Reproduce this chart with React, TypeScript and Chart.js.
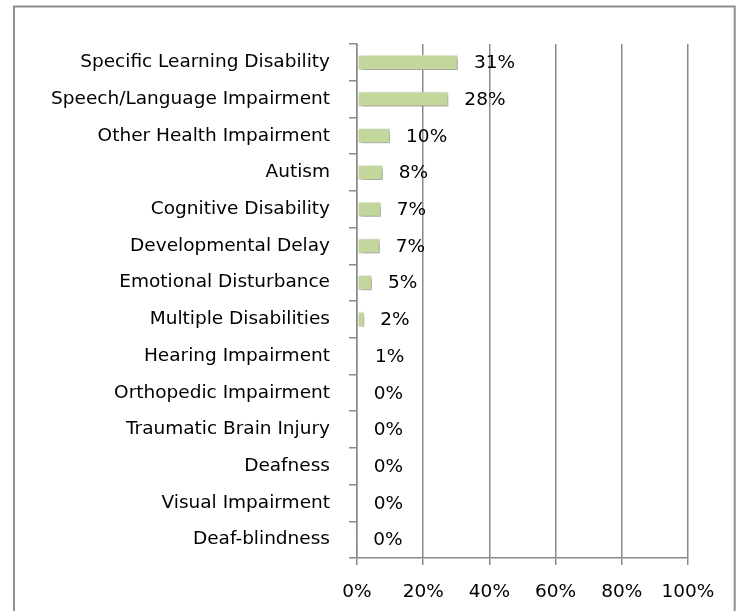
import React, { useEffect, useRef } from "react";
import { Chart, registerables } from "chart.js";

Chart.register(...registerables);

const categories = [
  "Specific Learning Disability",
  "Speech/Language Impairment",
  "Other Health Impairment",
  "Autism",
  "Cognitive Disability",
  "Developmental Delay",
  "Emotional Disturbance",
  "Multiple Disabilities",
  "Hearing Impairment",
  "Orthopedic Impairment",
  "Traumatic Brain Injury",
  "Deafness",
  "Visual Impairment",
  "Deaf-blindness",
];

const values = [30.5, 27.6, 10.0, 7.8, 7.2, 6.9, 4.5, 2.2, 0.6, 0.2, 0.2, 0.2, 0.2, 0.1];

const xTicks = [0, 20, 40, 60, 80, 100];

const FONT = "'DejaVu Sans', sans-serif";
const GRID = "#8a8a8a";

export default function App() {
  const ref = useRef<HTMLCanvasElement>(null);

  useEffect(() => {
    if (!ref.current) return;

    const frame = {
      id: "frame",
      beforeDraw(chart: any) {
        const ctx = chart.ctx;
        ctx.save();
        ctx.fillStyle = "#ffffff";
        ctx.fillRect(0, 0, chart.width, chart.height);
        ctx.strokeStyle = "#8e8e8e";
        ctx.lineWidth = 2;
        ctx.beginPath();
        ctx.moveTo(14, chart.height + 5);
        ctx.lineTo(14, 6.5);
        ctx.lineTo(734.7, 6.5);
        ctx.lineTo(734.7, chart.height + 5);
        ctx.stroke();
        ctx.restore();
      },
    };

    const shadow = {
      id: "barShadow",
      beforeDatasetDraw(chart: any) {
        const ctx = chart.ctx;
        ctx.save();
        ctx.shadowColor = "rgba(0,0,0,0.4)";
        ctx.shadowOffsetX = 2;
        ctx.shadowOffsetY = 2;
        ctx.shadowBlur = 4;
      },
      afterDatasetDraw(chart: any) {
        chart.ctx.restore();
      },
    };

    const labels = {
      id: "valueLabels",
      afterDatasetsDraw(chart: any) {
        const ctx = chart.ctx;
        const meta = chart.getDatasetMeta(0);
        ctx.save();
        ctx.fillStyle = "#000";
        ctx.font = `18.5px ${FONT}`;
        ctx.textAlign = "left";
        ctx.textBaseline = "middle";
        meta.data.forEach((bar: any, i: number) => {
          const v = values[i];
          ctx.fillText(Math.round(v) + "%", bar.x + 16, bar.y + 1);
        });
        ctx.restore();
      },
    };

    const chart = new Chart(ref.current, {
      type: "bar",
      data: {
        labels: categories,
        datasets: [
          {
            data: values,
            backgroundColor: "#c3d69b",
            borderColor: "#f4f8ec",
            borderWidth: 1,
            borderSkipped: false,
            categoryPercentage: 1,
            barPercentage: 0.41,
          },
        ],
      },
      options: {
        indexAxis: "y",
        animation: false,
        responsive: false,
        devicePixelRatio: 1,
        layout: { padding: { top: 44, right: 65, left: 0, bottom: 0 } },
        plugins: {
          legend: { display: false },
          tooltip: { enabled: false },
        },
        scales: {
          x: {
            min: 0,
            max: 100,
            afterBuildTicks(scale: any) {
              scale.ticks = xTicks.map((v) => ({ value: v }));
            },
            afterFit(scale: any) {
              scale.height = 53;
            },
            grid: {
              color: GRID,
              lineWidth: 1.5,
              drawTicks: true,
              tickLength: 7,
              tickColor: GRID,
            },
            border: { display: true, color: GRID, width: 1.5 },
            ticks: {
              padding: 16,
              color: "#000",
              font: { family: FONT, size: 18.5 },
              callback: (v: any) => v + "%",
            },
          },
          y: {
            afterFit(scale: any) {
              scale.width = 357;
            },
            grid: {
              drawOnChartArea: false,
              drawTicks: true,
              tickLength: 8,
              color: GRID,
              lineWidth: 1.5,
              offset: true,
            },
            border: { display: true, color: GRID, width: 1.5 },
            ticks: {
              padding: 19,
              color: "#000",
              font: { family: FONT, size: 18.5 },
            },
          },
        },
      },
      plugins: [frame, shadow, labels],
    } as any);

    return () => chart.destroy();
  }, []);

  return (
    <div style={{ position: "fixed", left: 0, top: 0, width: 753, height: 611 }}>
      <canvas ref={ref} width={753} height={611} style={{ display: "block", width: 753, height: 611 }} />
    </div>
  );
}
